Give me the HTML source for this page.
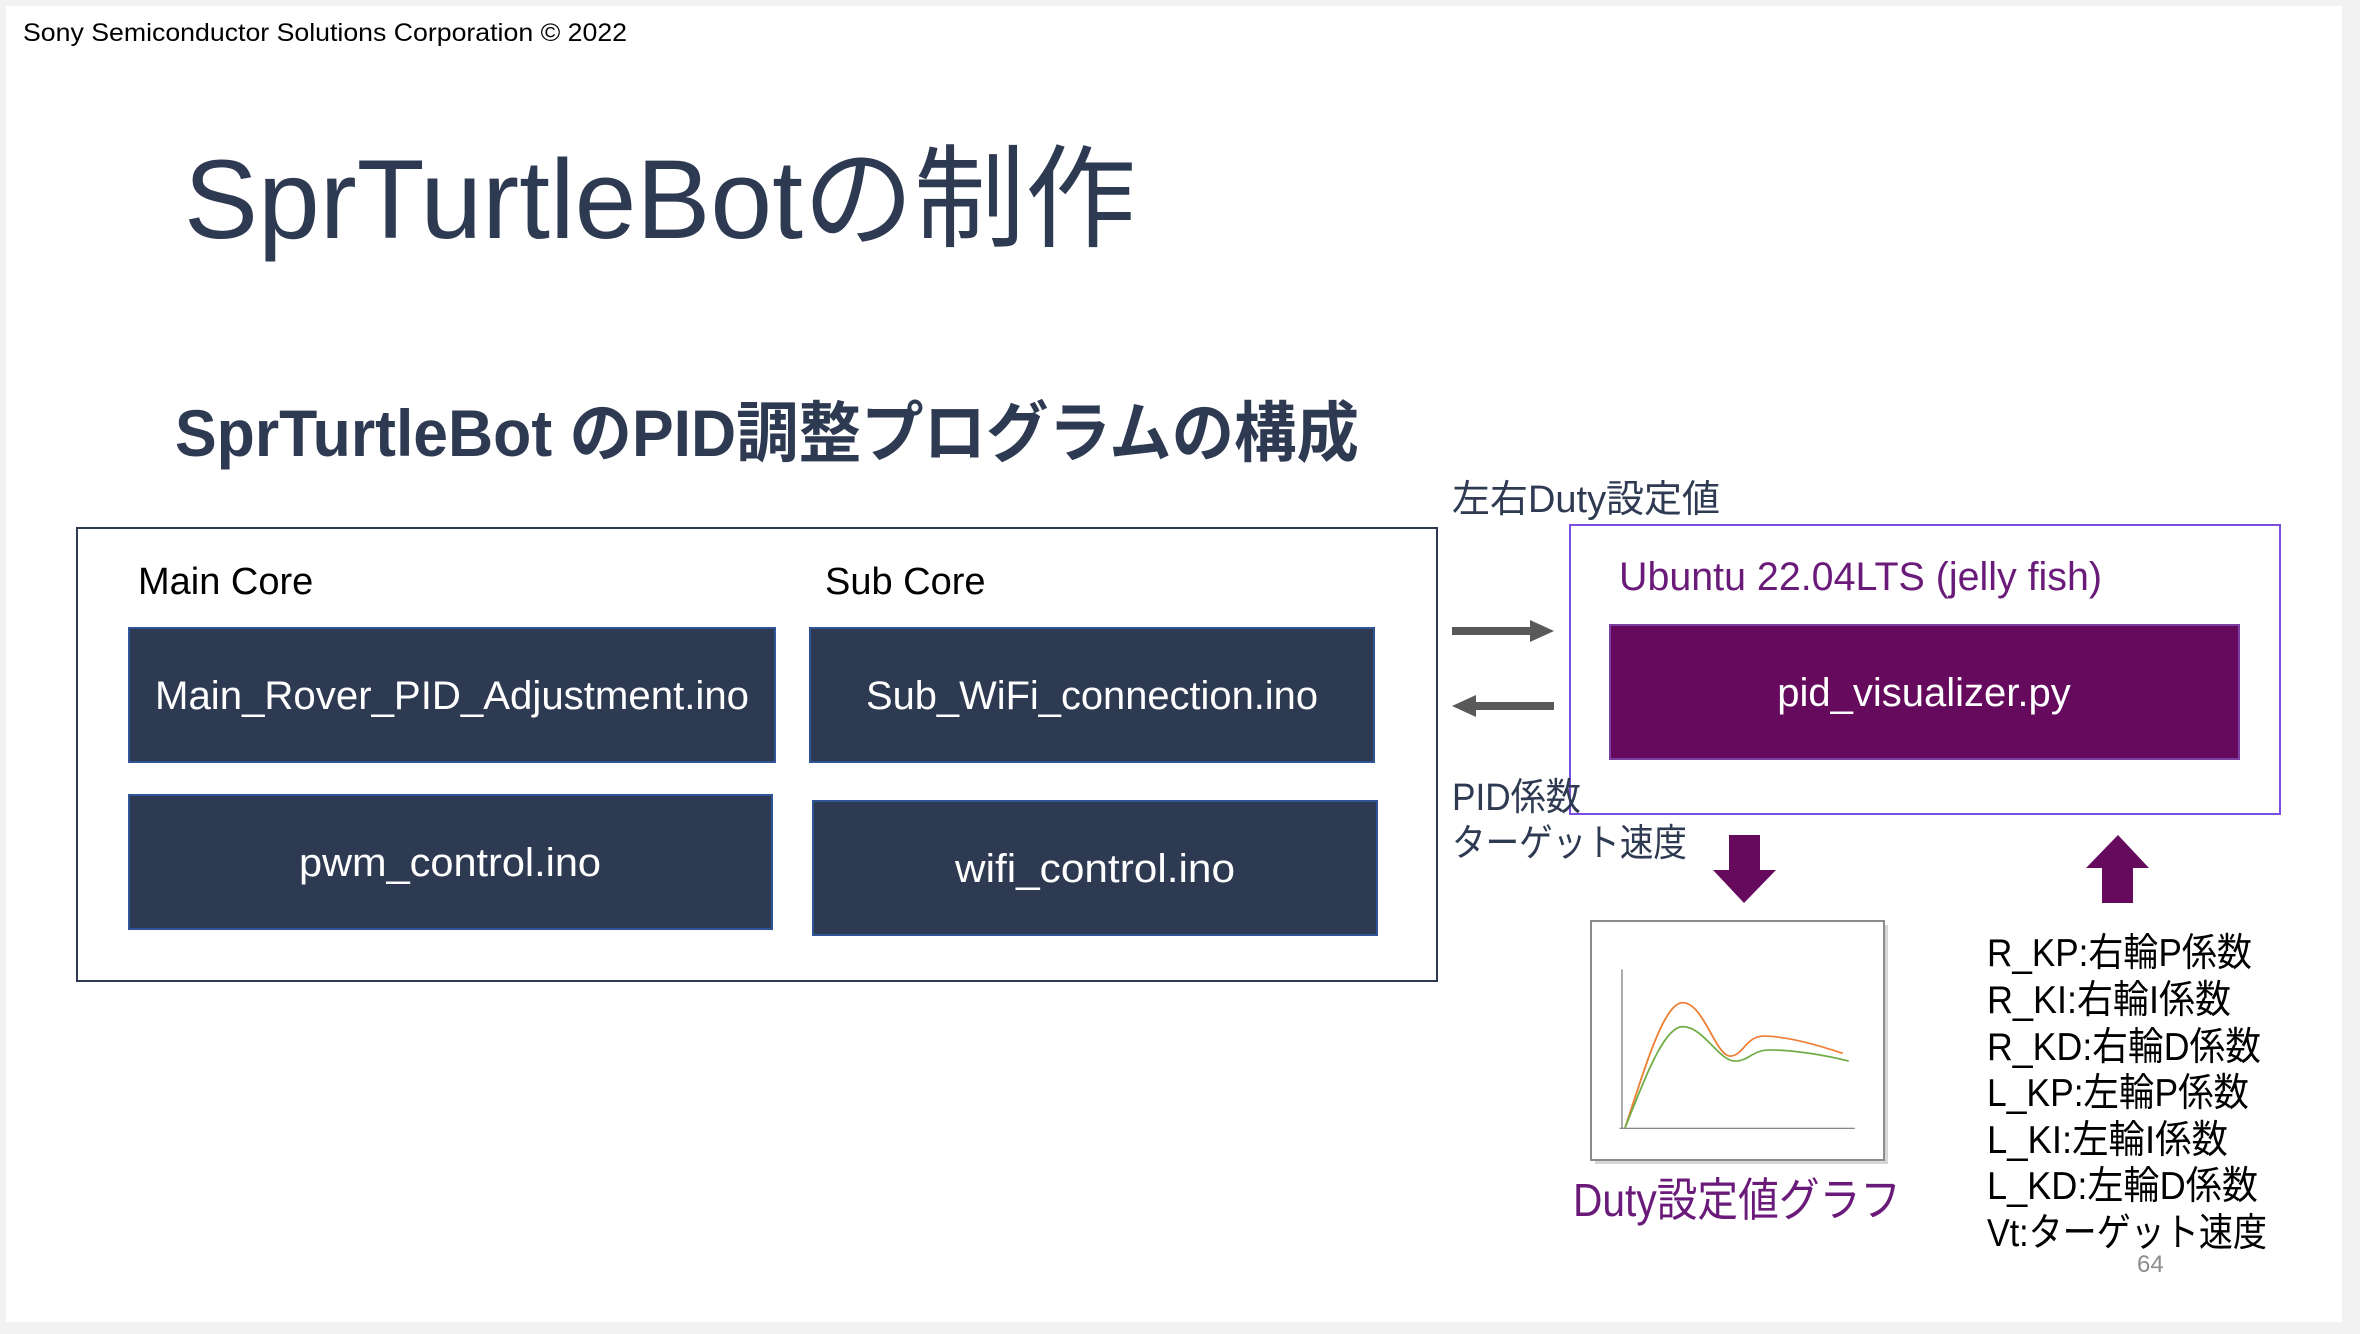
<!DOCTYPE html>
<html><head><meta charset="utf-8"><style>
html,body{margin:0;padding:0;background:#fff;}
svg{display:block;font-family:"Liberation Sans","Noto Sans CJK JP",sans-serif;}
</style></head><body>
<svg width="2360" height="1334" viewBox="0 0 2360 1334" xmlns="http://www.w3.org/2000/svg">
<rect x="0" y="0" width="2360" height="1334" fill="#f2f2f2"/>
<rect x="6" y="6" width="2336" height="1316" fill="#fff"/>
<text x="23" y="41" font-size="25" fill="#000" textLength="604" lengthAdjust="spacingAndGlyphs">Sony Semiconductor Solutions Corporation © 2022</text>
<text x="184" y="238" font-size="112" fill="#2e3a52" textLength="952" lengthAdjust="spacingAndGlyphs">SprTurtleBotの制作</text>
<text x="175" y="456" font-size="66" font-weight="bold" fill="#2e3a52" textLength="1184" lengthAdjust="spacingAndGlyphs">SprTurtleBot のPID調整プログラムの構成</text>
<rect x="77" y="528" width="1360" height="453" fill="none" stroke="#2e3a52" stroke-width="2"/>
<text x="138" y="594" font-size="38" fill="#000">Main Core</text>
<text x="825" y="594" font-size="38" fill="#000">Sub Core</text>
<g stroke="#2f5597" stroke-width="2" fill="#2e3a52">
<rect x="129" y="628" width="646" height="134"/>
<rect x="810" y="628" width="564" height="134"/>
<rect x="129" y="795" width="643" height="134"/>
<rect x="813" y="801" width="564" height="134"/>
</g>
<g fill="#fff" font-size="40" text-anchor="middle">
<text x="452" y="709" textLength="594" lengthAdjust="spacingAndGlyphs">Main_Rover_PID_Adjustment.ino</text>
<text x="1092" y="709" textLength="452" lengthAdjust="spacingAndGlyphs">Sub_WiFi_connection.ino</text>
<text x="450" y="876" textLength="302" lengthAdjust="spacingAndGlyphs">pwm_control.ino</text>
<text x="1095" y="882" textLength="280" lengthAdjust="spacingAndGlyphs">wifi_control.ino</text>
</g>
<text x="1452" y="512" font-size="38" fill="#2e3a52" textLength="268" lengthAdjust="spacingAndGlyphs">左右Duty設定値</text>
<rect x="1570" y="525" width="710" height="289" fill="none" stroke="#7a4fe0" stroke-width="2"/>
<text x="1619" y="590" font-size="40" fill="#6a1b7a" textLength="483" lengthAdjust="spacingAndGlyphs">Ubuntu 22.04LTS (jelly fish)</text>
<rect x="1610" y="625" width="629" height="134" fill="#660a5e" stroke="#7a3fa0" stroke-width="2"/>
<text x="1924" y="706" font-size="40" fill="#fff" text-anchor="middle">pid_visualizer.py</text>
<g fill="#595959">
<rect x="1452" y="627" width="80" height="8"/><polygon points="1530,620 1554,631 1530,642"/>
<rect x="1474" y="702" width="80" height="8"/><polygon points="1476,695 1452,706 1476,717"/>
</g>
<text x="1452" y="810" font-size="38" fill="#2e3a52" textLength="129" lengthAdjust="spacingAndGlyphs">PID係数</text>
<text x="1452" y="856" font-size="38" fill="#2e3a52" textLength="235" lengthAdjust="spacingAndGlyphs">ターゲット速度</text>
<g fill="#660a5e">
<polygon points="1729,835 1760,835 1760,870 1776,870 1744,903 1713,870 1729,870"/>
<polygon points="2102,903 2133,903 2133,868 2149,868 2118,835 2086,868 2102,868"/>
</g>
<rect x="1595" y="925" width="293" height="239" fill="#bbb" opacity="0.6"/>
<rect x="1591" y="921" width="293" height="239" fill="#fff" stroke="#8c8c8c" stroke-width="2"/>
<svg x="1591" y="921" width="293" height="239" viewBox="0 0 482 430" preserveAspectRatio="none">
<line x1="51" y1="87" x2="51" y2="373" stroke="#777" stroke-width="2"/>
<line x1="47" y1="373" x2="434" y2="373" stroke="#777" stroke-width="2"/>
<path d="M56,372 C90,260 120,147 151,147 C185,147 205,243 229,243 C250,243 255,207 284,207 C320,207 370,222 414,238" fill="none" stroke="#ed7d31" stroke-width="3"/>
<path d="M56,372 C90,280 120,190 151,190 C185,190 210,252 237,252 C260,252 265,232 294,232 C330,232 380,240 424,252" fill="none" stroke="#70ad47" stroke-width="3"/>
</svg>
<text x="1573" y="1216" font-size="46" fill="#6a1b7a" textLength="328" lengthAdjust="spacingAndGlyphs">Duty設定値グラフ</text>
<g font-size="39" fill="#000" lengthAdjust="spacingAndGlyphs">
<text x="1987" y="966" textLength="265" lengthAdjust="spacingAndGlyphs">R_KP:右輪P係数</text>
<text x="1987" y="1013" textLength="244" lengthAdjust="spacingAndGlyphs">R_KI:右輪I係数</text>
<text x="1987" y="1060" textLength="274" lengthAdjust="spacingAndGlyphs">R_KD:右輪D係数</text>
<text x="1987" y="1106" textLength="262" lengthAdjust="spacingAndGlyphs">L_KP:左輪P係数</text>
<text x="1987" y="1153" textLength="241" lengthAdjust="spacingAndGlyphs">L_KI:左輪I係数</text>
<text x="1987" y="1199" textLength="271" lengthAdjust="spacingAndGlyphs">L_KD:左輪D係数</text>
<text x="1987" y="1246" textLength="280" lengthAdjust="spacingAndGlyphs">Vt:ターゲット速度</text>
</g>
<text x="2137" y="1272" font-size="24" fill="#8c8c8c">64</text>
</svg>
</body></html>
